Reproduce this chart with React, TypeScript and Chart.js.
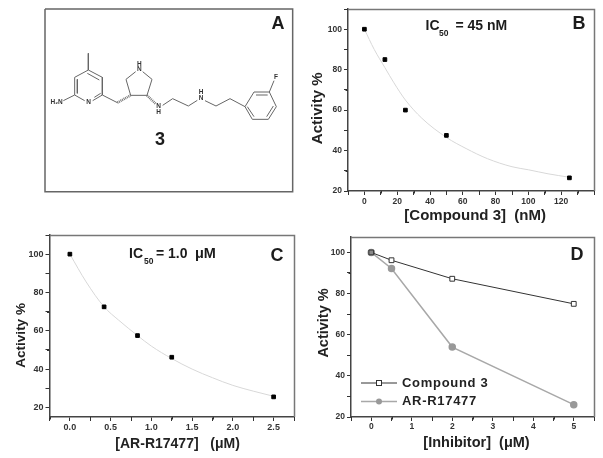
import React, { useEffect, useRef } from "react";
import { Chart, registerables } from "chart.js";
Chart.register(...registerables);

const FONT = '"Liberation Sans", Arial, sans-serif';

// Panel B
const bDoseX = [0, 12.5, 25, 50, 125];
const bActivity = [100, 85, 60, 47.5, 26.5];
const bFitX = [0, 6, 12.5, 18, 25, 35, 50, 62, 75, 90, 100, 112, 125];
const bFitY = [100, 90, 81, 73.5, 65, 56, 46.5, 41, 36, 32, 30.5, 28.5, 26.8];
// Panel C
const cDoseX = [0, 0.42, 0.83, 1.25, 2.5];
const cActivity = [100, 72.5, 57.5, 46.2, 25.5];
const cFitX = [0, 0.2, 0.42, 0.6, 0.83, 1.0, 1.25, 1.5, 1.75, 2.0, 2.25, 2.5];
const cFitY = [100, 85.5, 72.5, 65.5, 57.5, 52, 45.5, 40, 35.5, 31.5, 28.5, 25.8];
// Panel D
const dDoseX = [0, 0.5, 2, 5];
const dCompound3 = [100, 96.2, 87.2, 75];
const dAR = [100, 92.2, 54, 26];
const dLegend = ["Compound 3", "AR-R17477"];

// Panel A: the structure of compound 3, in a 900x675 drawing space
const frameA = [[135, 27], [878, 27], [878, 575], [135, 575], [135, 27]];
const skeleton = [
  [[265, 160], [265, 210], [307, 232], [307, 285], [278, 302]],
  [[254, 302], [224, 285], [224, 232], [265, 210]],
  [[262, 220], [298, 240]], [[232, 238], [232, 280]], [[283, 292], [302, 280]],
  [[190, 302], [224, 285]],
  [[307, 285], [352, 308]],
  [[392, 286], [378, 238], [407, 215]], [[428, 215], [456, 238], [441, 286], [392, 286]],
  [[488, 316], [518, 296], [565, 318], [592, 301]],
  [[615, 302], [648, 318], [690, 296], [735, 320], [762, 276], [808, 276], [829, 320], [805, 358], [757, 358], [735, 320]],
  [[808, 276], [822, 242]],
  [[768, 285], [803, 285]], [[820, 318], [800, 350]], [[762, 350], [742, 320]],
];
const hashBonds = [
  [[352, 308], [392, 286]],
  [[441, 286], [468, 312]],
];
const atomLabels = [
  ["H\u2082N", 170, 308], ["N", 266, 308], ["H", 418, 192], ["N", 418, 209],
  ["N", 476, 320], ["H", 476, 336], ["H", 603, 276], ["N", 603, 294], ["F", 828, 232],
];

type T = { t: string; x: number; y: number; f: string; c?: string; a?: CanvasTextAlign };

const textPlugin = {
  id: "textItems",
  afterDraw(chart: any, _a: any, opts: any) {
    const ctx = chart.ctx;
    ctx.save();
    ctx.textBaseline = "middle";
    for (const it of (opts.items || []) as T[]) {
      ctx.font = it.f;
      ctx.fillStyle = it.c || "#1c1c1c";
      ctx.textAlign = it.a || "left";
      ctx.fillText(it.t, it.x, it.y);
    }
    ctx.restore();
  },
};

const framePlugin = {
  id: "frameAndMinor",
  afterDraw(chart: any, _a: any, opts: any) {
    if (!opts.on) return;
    const { ctx, chartArea: ca, scales } = chart;
    ctx.save();
    ctx.strokeStyle = "#777";
    ctx.lineWidth = 1.5;
    ctx.beginPath();
    ctx.moveTo(ca.left, ca.top + 0.5);
    ctx.lineTo(ca.right + 0.5, ca.top + 0.5);
    ctx.lineTo(ca.right + 0.5, ca.bottom);
    ctx.stroke();
    ctx.lineWidth = 1;
    ctx.strokeStyle = "#333";
    ctx.beginPath();
    for (const t of scales.x.ticks) {
      if (!t.label) {
        const p = Math.round(scales.x.getPixelForValue(t.value)) + 0.5;
        ctx.moveTo(p, ca.bottom);
        ctx.lineTo(p, ca.bottom + 2.5);
      }
    }
    for (const t of scales.y.ticks) {
      if (!t.label) {
        const p = Math.round(scales.y.getPixelForValue(t.value)) + 0.5;
        ctx.moveTo(ca.left, p);
        ctx.lineTo(ca.left - 2.5, p);
      }
    }
    ctx.stroke();
    ctx.restore();
  },
};

const legendPlugin = {
  id: "legendD",
  afterDraw(chart: any, _a: any, opts: any) {
    if (!opts.on) return;
    const ctx = chart.ctx;
    const rows = [
      { y: 158, c: "#333", lw: 1, square: true },
      { y: 176.5, c: "#a8a8a8", lw: 1.5, square: false },
    ];
    ctx.save();
    rows.forEach((r, i) => {
      ctx.strokeStyle = r.c;
      ctx.lineWidth = r.lw;
      ctx.beginPath();
      ctx.moveTo(61, r.y);
      ctx.lineTo(97, r.y);
      ctx.stroke();
      if (r.square) {
        ctx.fillStyle = "#fff";
        ctx.fillRect(76.5, r.y - 2.5, 5, 5);
        ctx.strokeRect(76.5, r.y - 2.5, 5, 5);
      } else {
        ctx.fillStyle = "#999";
        ctx.beginPath();
        ctx.arc(79, r.y, 3, 0, Math.PI * 2);
        ctx.fill();
      }
      ctx.fillStyle = "#222";
      ctx.font = `bold 13px ${FONT}`;
      (ctx as any).letterSpacing = "0.7px";
      ctx.textBaseline = "middle";
      ctx.fillText(dLegend[i], 102, r.y);
    });
    ctx.restore();
  },
};

const xy = (xs: number[], ys: number[]) => xs.map((x, i) => ({ x, y: ys[i] }));
const near = (v: number, s: number) => Math.abs(v / s - Math.round(v / s)) < 1e-6;

function axes(cfg: any) {
  const tickFont = { family: FONT, size: cfg.tickSize ?? 8.5, weight: "bold" as const };
  return {
    x: {
      type: "linear",
      min: cfg.xMin, max: cfg.xMax,
      afterFit: (s: any) => { s.height = cfg.bottom; },
      afterBuildTicks: (s: any) => {
        s.ticks = cfg.xTicks.map((value: number) => ({ value }));
      },
      border: { display: true, color: "#444", width: 1.5 },
      grid: { drawOnChartArea: false, drawTicks: true, tickLength: 4, tickColor: "#333" },
      title: {
        display: true, text: cfg.xTitle, color: "#222",
        font: { family: FONT, size: cfg.xTitleSize ?? 14, weight: "bold" },
        padding: { top: 0, bottom: cfg.xTitleBottom ?? 2 },
      },
      ticks: {
        autoSkip: false, maxRotation: 0, color: "#333", font: tickFont, padding: cfg.xTickPad ?? 1,
        callback: cfg.xLabel,
      },
    },
    y: {
      type: "linear",
      min: cfg.yMin, max: cfg.yMax,
      afterFit: (s: any) => { s.width = cfg.left; },
      afterBuildTicks: (s: any) => {
        s.ticks = cfg.yTicks.map((value: number) => ({ value }));
      },
      border: { display: true, color: "#444", width: 1.5 },
      grid: { drawOnChartArea: false, drawTicks: true, tickLength: 4, tickColor: "#333" },
      title: {
        display: true, text: cfg.yTitle, color: "#222",
        font: { family: FONT, size: cfg.yTitleSize ?? 15, weight: "bold" },
        padding: { top: cfg.yTitleShift ?? 0, bottom: 0 },
      },
      ticks: {
        autoSkip: false, color: "#333", font: tickFont, padding: 2,
        callback: (v: number) => (near(v, 20) ? String(v) : ""),
      },
    },
  };
}

function panelOptions(cfg: any, items: T[], extra: any = {}) {
  return {
    responsive: false,
    animation: false,
    layout: { padding: cfg.padding },
    scales: axes(cfg),
    plugins: {
      legend: { display: false },
      tooltip: { enabled: false },
      textItems: { items },
      frameAndMinor: { on: true },
      legendD: extra,
    },
  };
}

const range = (a: number, b: number, s: number) => {
  const out: number[] = [];
  for (let i = 0; a + i * s <= b + 1e-9; i++) out.push(+(a + i * s).toFixed(4));
  return out;
};

function fitAndPoints(fx: number[], fy: number[], px: number[], py: number[]) {
  return [
    { type: "scatter", data: xy(px, py), pointStyle: "rect", pointRadius: 2.6, backgroundColor: "#000", borderColor: "#000", showLine: false },
    { type: "scatter", data: xy(fx, fy), showLine: true, cubicInterpolationMode: "monotone", borderColor: "#d8d8d8", borderWidth: 1, pointRadius: 0 },
  ];
}

function makeA(cv: HTMLCanvasElement) {
  const flat = (segs: number[][][]) => {
    const pts: any[] = [];
    segs.forEach((s) => { s.forEach(([x, y]) => pts.push({ x, y })); pts.push({ x: NaN, y: NaN }); });
    return pts;
  };
  const items: T[] = atomLabels.map(([t, x, y]) => ({
    t: t as string, x: (x as number) / 3, y: (y as number) / 3,
    f: `bold 6.5px ${FONT}`, c: "#333", a: "center" as CanvasTextAlign,
  }));
  items.push({ t: "3", x: 160, y: 140.5, f: `bold 18px ${FONT}`, a: "center" });
  items.push({ t: "A", x: 278, y: 24, f: `bold 18px ${FONT}`, a: "center" });
  return new Chart(cv, {
    type: "scatter",
    data: {
      datasets: [
        { data: flat([frameA]), showLine: true, borderColor: "#666", borderWidth: 1.5, pointRadius: 0 },
        { data: flat(skeleton), showLine: true, borderColor: "#666", borderWidth: 1, pointRadius: 0 },
        { data: flat(hashBonds), showLine: true, borderColor: "#777", borderWidth: 2.5, borderDash: [1, 0.8], pointRadius: 0 },
      ],
    } as any,
    options: {
      responsive: false,
      animation: false,
      layout: { padding: 0 },
      scales: {
        x: { type: "linear", display: false, min: 0, max: 900 },
        y: { type: "linear", display: false, min: 0, max: 675, reverse: true },
      },
      plugins: { legend: { display: false }, tooltip: { enabled: false }, textItems: { items } },
    } as any,
    plugins: [textPlugin],
  });
}

function makeB(cv: HTMLCanvasElement) {
  const cfg = {
    padding: { top: 9, right: 9, left: 0, bottom: 0 },
    left: 48, bottom: 34,
    xMin: -10, xMax: 140, yMin: 20, yMax: 110,
    xTicks: range(-10, 140, 10), yTicks: range(20, 110, 10),
    xTitle: "  [Compound 3]  (nM)",
    xTitleSize: 15,
    xTitleBottom: 0,
    xTickPad: 2,
    yTitle: "Activity %    ",
    yTitleShift: 9,
    xLabel: (v: number) => (near(v, 20) && v >= 0 && v <= 120 ? String(v) : ""),
  };
  const items: T[] = [
    { t: "IC", x: 125.5, y: 26, f: `bold 14px ${FONT}` },
    { t: "50", x: 139, y: 33.5, f: `bold 8.5px ${FONT}` },
    { t: "= 45 nM", x: 155.5, y: 26, f: `bold 14px ${FONT}` },
    { t: "B", x: 279, y: 24, f: `bold 18px ${FONT}`, a: "center" },
  ];
  return new Chart(cv, {
    type: "scatter",
    data: { datasets: fitAndPoints(bFitX, bFitY, bDoseX, bActivity) } as any,
    options: panelOptions(cfg, items) as any,
    plugins: [textPlugin, framePlugin],
  });
}

function makeC(cv: HTMLCanvasElement) {
  const cfg = {
    padding: { top: 10, right: 9, left: 0, bottom: 0 },
    left: 49.5, bottom: 41,
    xMin: -0.25, xMax: 2.75, yMin: 15, yMax: 110,
    xTicks: range(-0.25, 2.75, 0.25), yTicks: range(20, 110, 10),
    xTitle: "   [AR-R17477]   (\u03bcM)",
    xTitleBottom: 5,
    tickSize: 9,
    yTitle: "Activity %     ",
    yTitleSize: 13.5,
    yTitleShift: 13,
    xLabel: (v: number) => (near(v, 0.5) && v >= 0 && v <= 2.5 ? v.toFixed(1) : ""),
  };
  const items: T[] = [
    { t: "IC", x: 129, y: 29, f: `bold 14px ${FONT}` },
    { t: "50", x: 144, y: 36.5, f: `bold 8.5px ${FONT}` },
    { t: "= 1.0", x: 156, y: 29, f: `bold 14px ${FONT}` },
    { t: "\u03bcM", x: 195, y: 29, f: `bold 14.5px ${FONT}` },
    { t: "C", x: 277, y: 31, f: `bold 18px ${FONT}`, a: "center" },
  ];
  return new Chart(cv, {
    type: "scatter",
    data: { datasets: fitAndPoints(cFitX, cFitY, cDoseX, cActivity) } as any,
    options: panelOptions(cfg, items) as any,
    plugins: [textPlugin, framePlugin],
  });
}

function makeD(cv: HTMLCanvasElement) {
  const cfg = {
    padding: { top: 12, right: 9, left: 0, bottom: 0 },
    left: 51, bottom: 41,
    xMin: -0.5, xMax: 5.5, yMin: 20, yMax: 107.5,
    xTicks: range(-0.5, 5.5, 0.5), yTicks: range(20, 100, 10),
    xTitle: "  [Inhibitor]  (\u03bcM)",
    xTitleSize: 14.5,
    xTitleBottom: 6,
    xLabel: (v: number) => (near(v, 1) && v >= 0 && v <= 5 ? String(v) : ""),
    tickSize: 8.5,
    yTitle: "  Activity %",
    yTitleSize: 14.5,
    yTitleShift: 15,
  };
  const items: T[] = [{ t: "D", x: 277, y: 30, f: `bold 18px ${FONT}`, a: "center" }];
  return new Chart(cv, {
    type: "scatter",
    data: {
      datasets: [
        { label: dLegend[0], data: xy(dDoseX, dCompound3), showLine: true, borderColor: "#333", borderWidth: 1, pointStyle: "rect", pointRadius: 3.4, pointBackgroundColor: ["#888", "#fff", "#fff", "#fff"], pointBorderColor: "#333", pointBorderWidth: 1 },
        { label: dLegend[1], data: xy(dDoseX, dAR), showLine: true, borderColor: "#a8a8a8", borderWidth: 1.5, pointStyle: "circle", pointRadius: 3, backgroundColor: "#999", pointBorderColor: "#999" },
      ],
    } as any,
    options: panelOptions(cfg, items, { on: true }) as any,
    plugins: [textPlugin, framePlugin, legendPlugin],
  });
}

const panels = [
  { make: makeA, left: 0, top: 0, w: 300, h: 225 },
  { make: makeB, left: 300, top: 0, w: 303, h: 225 },
  { make: makeC, left: 0, top: 225, w: 303, h: 233 },
  { make: makeD, left: 300, top: 225, w: 303, h: 233 },
];

export default function App() {
  const refs = useRef<(HTMLCanvasElement | null)[]>([]);
  useEffect(() => {
    const charts = panels.map((p, i) => p.make(refs.current[i]!));
    return () => charts.forEach((c) => c.destroy());
  }, []);
  return (
    <div style={{ position: "absolute", left: 0, top: 0, width: 603, height: 458, background: "#fff", overflow: "hidden", filter: "blur(0.35px)" }}>
      {panels.map((p, i) => (
        <canvas
          key={i}
          ref={(el) => { refs.current[i] = el; }}
          width={p.w}
          height={p.h}
          style={{ position: "absolute", left: p.left, top: p.top, width: p.w, height: p.h }}
        />
      ))}
    </div>
  );
}
